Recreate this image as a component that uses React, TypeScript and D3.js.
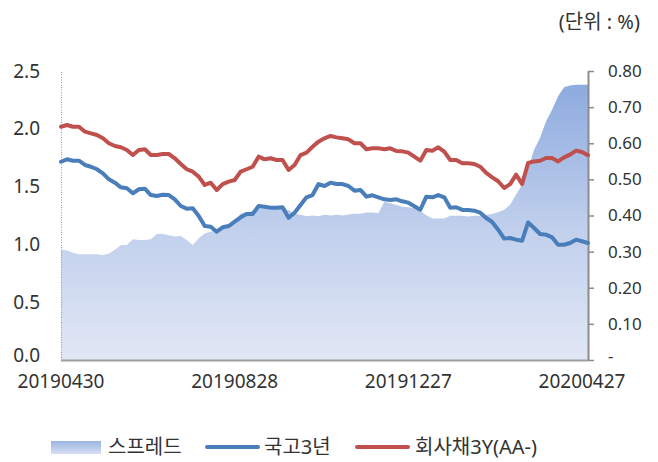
import React, { useEffect, useRef } from "react";
import * as d3 from "d3";

// 국고3년 (left axis, %)
const govt3y = [
  1.715, 1.736, 1.724, 1.724, 1.687, 1.672, 1.650, 1.615, 1.563, 1.534, 1.494, 1.485, 1.442, 1.477, 1.482, 1.427, 1.419, 1.430,
  1.427, 1.390, 1.332, 1.309, 1.312, 1.246, 1.159, 1.153, 1.110, 1.148, 1.159, 1.196, 1.234, 1.263, 1.263, 1.332, 1.326, 1.318,
  1.318, 1.321, 1.230, 1.274, 1.341, 1.407, 1.427, 1.522, 1.505, 1.534, 1.522, 1.522, 1.505, 1.465, 1.471, 1.413, 1.425,
  1.407, 1.390, 1.384, 1.390, 1.373, 1.361, 1.330, 1.300, 1.413, 1.407, 1.427, 1.407, 1.318, 1.321, 1.298, 1.298, 1.292, 1.274,
  1.228, 1.194, 1.127, 1.050, 1.055, 1.041, 1.032, 1.190, 1.142, 1.090, 1.084, 1.061, 0.997, 0.997, 1.012, 1.041, 1.027, 1.012,
];

// 회사채3Y(AA-) (left axis, %)
const corp3y = [
  2.018, 2.033, 2.018, 2.018, 1.975, 1.961, 1.946, 1.918, 1.875, 1.851, 1.840, 1.817, 1.773, 1.817, 1.823, 1.773, 1.773, 1.782,
  1.782, 1.745, 1.696, 1.650, 1.629, 1.586, 1.514, 1.534, 1.471, 1.522, 1.543, 1.557, 1.629, 1.650, 1.672, 1.759, 1.736, 1.745,
  1.730, 1.730, 1.644, 1.687, 1.773, 1.794, 1.845, 1.889, 1.918, 1.938, 1.926, 1.918, 1.909, 1.875, 1.875, 1.823, 1.831,
  1.831, 1.823, 1.831, 1.808, 1.805, 1.794, 1.759, 1.724, 1.817, 1.811, 1.840, 1.802, 1.730, 1.730, 1.701, 1.701, 1.696, 1.672,
  1.618, 1.580, 1.546, 1.488, 1.522, 1.603, 1.522, 1.704, 1.718, 1.724, 1.747, 1.747, 1.718, 1.753, 1.776, 1.811, 1.799, 1.771,
];

// 스프레드 (right axis, %p)
const spread = [
  0.305, 0.303, 0.297, 0.293, 0.293, 0.293, 0.293, 0.291, 0.295, 0.305, 0.318, 0.318, 0.334, 0.332, 0.332, 0.334, 0.349, 0.349,
  0.345, 0.342, 0.343, 0.332, 0.318, 0.337, 0.350, 0.355, 0.362, 0.372, 0.375, 0.385, 0.405, 0.410, 0.412, 0.420, 0.420, 0.422,
  0.420, 0.418, 0.415, 0.405, 0.402, 0.398, 0.400, 0.398, 0.402, 0.400, 0.402, 0.400, 0.403, 0.405, 0.405, 0.408, 0.408,
  0.406, 0.438, 0.434, 0.429, 0.424, 0.423, 0.420, 0.413, 0.401, 0.392, 0.392, 0.392, 0.399, 0.399, 0.399, 0.397, 0.399, 0.399,
  0.402, 0.404, 0.409, 0.416, 0.430, 0.458, 0.485, 0.531, 0.582, 0.615, 0.661, 0.693, 0.730, 0.755, 0.760, 0.762, 0.762, 0.762,
];

const dateLabels = ["20190430", "20190828", "20191227", "20200427"];
const dateLabelIndex = [0, 29, 58, 87];
const leftTicks = [0, 0.5, 1.0, 1.5, 2.0, 2.5];
const rightTicks = [0, 0.1, 0.2, 0.3, 0.4, 0.5, 0.6, 0.7, 0.8];
const legendNames = ["스프레드", "국고3년", "회사채3Y(AA-)"];

const App = () => {
  const svgRef = useRef(null);

  useEffect(() => {
    const width = 658,
      height = 462;
    const left = 61,
      right = 588,
      top = 71,
      bottom = 360;
    const font = "'Noto Sans', 'Noto Sans CJK KR', sans-serif";
    const textColor = "#333";
    const blue = "#4a7ebb";
    const red = "#c0504d";

    const svg = d3.select(svgRef.current).attr("width", width).attr("height", height);
    svg.selectAll("*").remove();

    const n = govt3y.length;
    const x = d3.scaleLinear().domain([0, n - 1]).range([left, right]);
    const yL = d3.scaleLinear().domain([0, 2.5]).range([bottom, top]);
    const yR = d3.scaleLinear().domain([0, 0.8]).range([bottom, top]);

    // gradient for the spread area
    const defs = svg.append("defs");
    const grad = defs
      .append("linearGradient")
      .attr("id", "spreadGrad")
      .attr("x1", 0)
      .attr("y1", 0)
      .attr("x2", 0)
      .attr("y2", 1);
    grad.append("stop").attr("offset", "0%").attr("stop-color", "#8eabdf");
    grad.append("stop").attr("offset", "55%").attr("stop-color", "#c3d1ed");
    grad.append("stop").attr("offset", "100%").attr("stop-color", "#e1e7f5");

    // spread area (right axis)
    const area = d3
      .area()
      .x((d, i) => x(i))
      .y0(bottom)
      .y1((d) => yR(d));
    svg.append("path").datum(spread).attr("d", area).attr("fill", "url(#spreadGrad)");

    // left axis (dotted line, no ticks)
    const gL = svg
      .append("g")
      .attr("transform", `translate(${left},0)`)
      .call(d3.axisLeft(yL).tickValues(leftTicks).tickFormat(d3.format(".1f")).tickSize(0).tickPadding(21));
    gL.select(".domain").attr("stroke", "#999").attr("stroke-dasharray", "1,1.5");
    gL.selectAll("text").attr("font-size", 19).attr("font-family", font).attr("fill", textColor);
    // keep "0.0" clear of the first date label
    gL.selectAll(".tick text").filter((d) => d === 0).attr("dy", "0.1em");

    // right axis
    const gR = svg
      .append("g")
      .attr("transform", `translate(${right},0)`)
      .call(
        d3
          .axisRight(yR)
          .tickValues(rightTicks)
          .tickFormat((d) => (d === 0 ? "-" : d3.format(".2f")(d)))
          .tickSize(6)
          .tickSizeOuter(0)
          .tickPadding(14)
      );
    gR.select(".domain").attr("stroke", "#8c8c8c").attr("stroke-width", 2);
    gR.selectAll(".tick line").attr("stroke", "#8c8c8c").attr("stroke-width", 1.5);
    gR.selectAll("text").attr("font-size", 17).attr("font-family", font).attr("fill", textColor);
    gR.selectAll(".tick text").filter((d) => d === 0).attr("dy", "0.1em");

    // bottom axis
    svg
      .append("line")
      .attr("x1", left)
      .attr("x2", right)
      .attr("y1", bottom + 0.5)
      .attr("y2", bottom + 0.5)
      .attr("stroke", "#a0a0a0")
      .attr("stroke-width", 2);
    svg
      .selectAll(".xlab")
      .data(dateLabels)
      .join("text")
      .attr("class", "xlab")
      .attr("x", (d, i) => x(dateLabelIndex[i]))
      .attr("y", 388)
      .attr("text-anchor", "middle")
      .attr("font-size", 19)
      .attr("font-family", font)
      .attr("fill", textColor)
      .text((d) => d);

    // lines
    const lineL = d3
      .line()
      .x((d, i) => x(i))
      .y((d) => yL(d));
    svg
      .append("path")
      .datum(govt3y)
      .attr("d", lineL)
      .attr("fill", "none")
      .attr("stroke", blue)
      .attr("stroke-width", 4)
      .attr("stroke-linejoin", "round")
      .attr("stroke-linecap", "round");
    svg
      .append("path")
      .datum(corp3y)
      .attr("d", lineL)
      .attr("fill", "none")
      .attr("stroke", red)
      .attr("stroke-width", 4)
      .attr("stroke-linejoin", "round")
      .attr("stroke-linecap", "round");

    // unit label
    svg
      .append("text")
      .attr("x", 640)
      .attr("y", 29)
      .attr("text-anchor", "end")
      .attr("font-size", 20)
      .attr("font-family", font)
      .attr("fill", textColor)
      .text("(단위 : %)");

    // legend
    const ly = 447;
    const lg = svg.append("g").attr("font-family", font).attr("font-size", 20).attr("fill", textColor);
    const legGrad = defs
      .append("linearGradient")
      .attr("id", "legGrad")
      .attr("x1", 0)
      .attr("y1", 0)
      .attr("x2", 0)
      .attr("y2", 1);
    legGrad.append("stop").attr("offset", "0%").attr("stop-color", "#9ab4e2");
    legGrad.append("stop").attr("offset", "100%").attr("stop-color", "#d6def2");
    lg.append("rect").attr("x", 51).attr("y", ly - 6).attr("width", 50).attr("height", 13).attr("fill", "url(#legGrad)");
    lg.append("text").attr("x", 108).attr("y", ly).attr("dy", "0.35em").text(legendNames[0]);
    lg.append("line").attr("x1", 207).attr("x2", 258).attr("y1", ly).attr("y2", ly).attr("stroke", blue).attr("stroke-width", 4).attr("stroke-linecap", "round");
    lg.append("text").attr("x", 264).attr("y", ly).attr("dy", "0.35em").text(legendNames[1]);
    lg.append("line").attr("x1", 357).attr("x2", 408).attr("y1", ly).attr("y2", ly).attr("stroke", red).attr("stroke-width", 4).attr("stroke-linecap", "round");
    lg.append("text").attr("x", 415).attr("y", ly).attr("dy", "0.35em").text(legendNames[2]);
  }, []);

  return <svg ref={svgRef} style={{ position: "absolute", left: 0, top: 0 }}></svg>;
};

export default App;
